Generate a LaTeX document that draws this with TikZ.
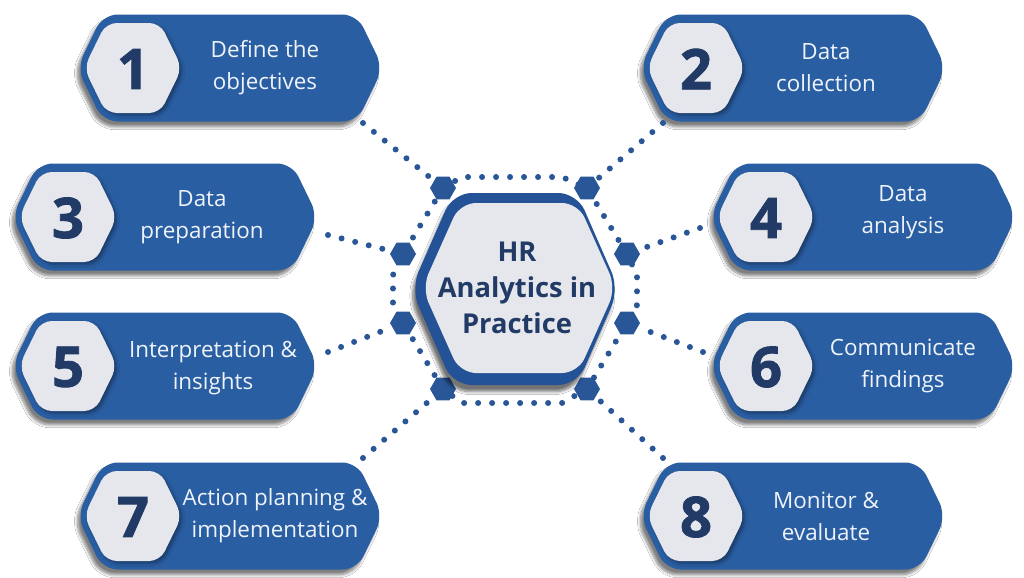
\documentclass[tikz,border=0pt]{standalone}
\usepackage{fontspec}
\setmainfont{Open Sans}
\newfontfamily\numfont{Open Sans}[BoldFeatures={FakeBold=1.6}]
\usetikzlibrary{shapes.geometric,shadows.blur}
\definecolor{cardblue}{RGB}{42,94,163}
\definecolor{rimblue}{RGB}{36,82,150}
\definecolor{dotblue}{RGB}{40,86,150}
\definecolor{hexgrey}{RGB}{229,231,236}
\definecolor{navy}{RGB}{33,58,102}
\definecolor{cardtext}{RGB}{238,243,250}
\newcommand\hexpoly[5]{({#1-#3},{#2}) -- ({#1-#3+#5},{#2-#4}) -- ({#1+#3-#5},{#2-#4}) -- ({#1+#3},{#2}) -- ({#1+#3-#5},{#2+#4}) -- ({#1-#3+#5},{#2+#4}) -- cycle}
\tikzset{
  cardshadow/.style={blur shadow={shadow xshift=-2.5pt, shadow yshift=-4pt, shadow blur steps=8, shadow opacity=50}},
  numshadow/.style={blur shadow={shadow xshift=2pt, shadow yshift=-2pt, shadow blur steps=5, shadow opacity=35}},
  numtext/.style={font=\fontsize{42}{42}\numfont\bfseries, text=navy, inner sep=0pt},
  cardtxt/.style={font=\fontsize{16.8}{24}\selectfont, text=cardtext, align=center, inner sep=0pt},
  titletext/.style={font=\fontsize{20.5}{27}\selectfont\bfseries, text=navy, align=center, inner sep=0pt},
  smallhex/.style={regular polygon, regular polygon sides=6, minimum size=19.5pt, inner sep=0pt, fill=dotblue},
  dotline/.style={draw=dotblue, line width=4.5pt, line cap=round, dash pattern=on 0pt off 10.5pt}
}
\newcommand\card[7]{%
  \fill[cardblue, rounded corners=11pt, cardshadow] \hexpoly{#2+153}{#3}{153}{53.5}{26};
  \fill[hexgrey, rounded corners=8pt, numshadow] \hexpoly{#2+56}{#3}{49}{45}{22};
  \node[numtext] (#1num) at ({#2+56},{#3+1}) {#4};
  \node[cardtxt] (#1txt) at ({#5},{#3+#6}) {#7};
}
\begin{document}
\begin{tikzpicture}[x=0.75pt,y=-0.75pt]
\useasboundingbox (0,0) rectangle (1024,578);
\fill[white] (0,0) rectangle (1024,578);

% connector start points at the cards
\coordinate (s1) at (363,123);
\coordinate (s2) at (663,123);
\coordinate (s3) at (328,235);
\coordinate (s4) at (700,228);
\coordinate (s5) at (328,352);
\coordinate (s6) at (703,352);
\coordinate (s7) at (363,458);
\coordinate (s8) at (663,458);

% small hexagons positions
\coordinate (p1) at (443,188);
\coordinate (p2) at (587,188);
\coordinate (p3) at (403,254);
\coordinate (p4) at (627,254);
\coordinate (p5) at (403,323);
\coordinate (p6) at (627,323);
\coordinate (p7) at (443,389);
\coordinate (p8) at (587,389);

% dotted ring
\draw[dotline] (p1) -- (462,177) -- (562,177) -- (p2) -- (p4) -- (637,275) -- (637,305) -- (p6)
  -- (p8) -- (562,403) -- (462,403) -- (p7) -- (p5) -- (393,305) -- (393,275) -- (p3) -- cycle;

% cards
\card{k1}{77}{68}{1}{265}{0}{Define the\\objectives}
\card{k2}{640}{68}{2}{826}{0}{Data\\collection}
\card{k3}{12}{217}{3}{202}{0}{Data\\preparation}
\card{k4}{710}{217}{4}{903}{-5}{Data\\analysis}
\card{k5}{12}{366}{5}{213}{2}{Interpretation \&\\insights}
\card{k6}{710}{366}{6}{903}{0}{Communicate\\findings}
\card{k7}{77}{516}{7}{275}{0}{Action planning \&\\implementation}
\card{k8}{640}{516}{8}{826}{0}{Monitor \&\\evaluate}

% small hexagons
\foreach \i in {1,...,8} { \node[smallhex] (h\i) at (p\i) {}; }

% connectors
\foreach \i in {1,...,8} { \draw[dotline] (s\i) -- (h\i); }

% centre hexagon
\fill[rimblue, rounded corners=14pt, blur shadow={shadow xshift=-2pt, shadow yshift=-5pt, shadow blur steps=8, shadow opacity=55}] \hexpoly{515}{289}{104}{96}{42};
\fill[hexgrey, rounded corners=12pt] \hexpoly{519}{288}{97}{85}{38};
\node[titletext] (title) at (517,288) {HR\\Analytics in\\Practice};
\end{tikzpicture}
\end{document}
